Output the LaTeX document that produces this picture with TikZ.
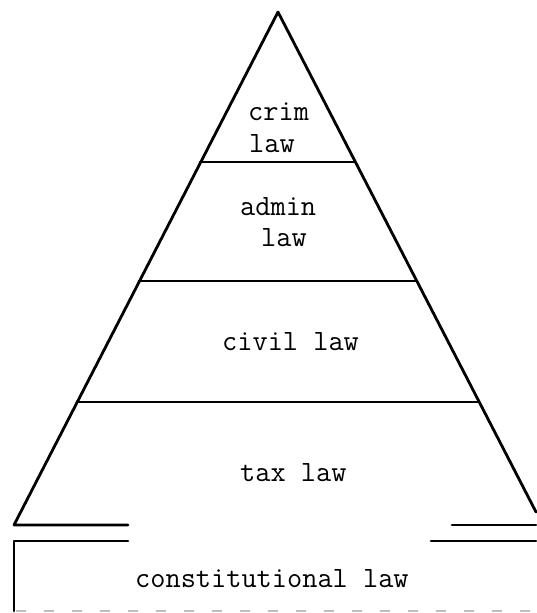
\documentclass[tikz,border=0pt]{standalone}
\begin{document}
\begin{tikzpicture}[x=1pt,y=-1pt,
  edge/.style={line width=2.8pt,line cap=round,line join=round},
  lbl/.style={anchor=base west,inner sep=0pt,font=\ttfamily\fontsize{29.5}{34}\selectfont}]
\useasboundingbox (0,0) rectangle (536,613);
\coordinate (apex) at (278,12);
\coordinate (bl) at (14,525);
\coordinate (blr) at (128,525);
\coordinate (br) at (536,512);
\coordinate (brl) at (452,525);
\coordinate (brr) at (536,525);
% sides
\draw[edge] (blr) -- (bl) -- (apex) -- (br);
\draw[edge] (brl) -- (brr);
% layer lines
\coordinate (l1a) at (200,162); \coordinate (l1b) at (354,162);
\coordinate (l2a) at (139,281); \coordinate (l2b) at (416,281);
\coordinate (l3a) at (77,402);  \coordinate (l3b) at (478,402);
\draw[edge] (l1a) -- (l1b);
\draw[edge] (l2a) -- (l2b);
\draw[edge] (l3a) -- (l3b);
% base bracket
\coordinate (cl) at (128,541); \coordinate (cc) at (14,541); \coordinate (cb) at (14,611);
\coordinate (cr1) at (431,541); \coordinate (cr2) at (536,541);
\draw[edge] (cl) -- (cc) -- (cb);
\draw[edge] (cr1) -- (cr2);
\coordinate (d1) at (16,611); \coordinate (d2) at (536,611);
\draw[black!25,line width=1.5pt,dash pattern=on 10pt off 18pt] (d1) -- (d2);
% labels
\node[lbl] (crim) at (248,120) {crim};
\node[lbl] (crimlaw) at (249,152) {law};
\node[lbl] (admin) at (240,215) {admin};
\node[lbl] (adminlaw) at (261,246) {law};
\node[lbl] (civil) at (222,350) {civil law};
\node[lbl] (tax) at (240,481) {tax law};
\node[lbl] (const) at (135,587) {constitutional law};
\end{tikzpicture}
\end{document}
